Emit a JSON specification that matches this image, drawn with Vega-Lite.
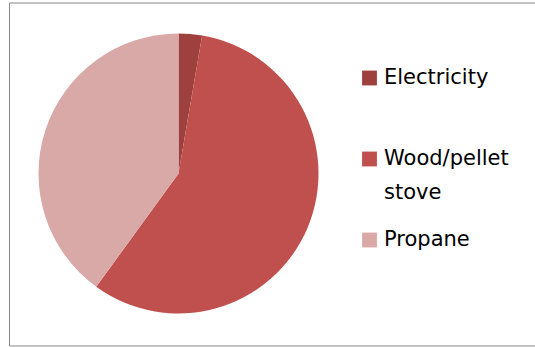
{
  "$schema": "https://vega.github.io/schema/vega-lite/v6.json",
  "width": 526,
  "height": 343,
  "autosize": {"type": "none"},
  "padding": {"left": 9, "top": 2.5, "right": 0, "bottom": 1.5},
  "background": "white",
  "data": {
    "values": [
      {"source": "Electricity", "share": 2.7, "rank": 1},
      {"source": "Wood/pellet stove", "share": 57.3, "rank": 2},
      {"source": "Propane", "share": 40, "rank": 3}
    ]
  },
  "mark": {"type": "arc", "radius": 140},
  "encoding": {
    "theta": {"field": "share", "type": "quantitative", "stack": true},
    "order": {"field": "rank", "type": "quantitative"},
    "x": {"value": 169.5},
    "y": {"value": 171},
    "color": {
      "field": "source",
      "type": "nominal",
      "scale": {
        "domain": ["Electricity", "Wood/pellet stove", "Propane"],
        "range": ["#9E413E", "#C0504D", "#D9A9A8"]
      },
      "legend": {
        "title": null,
        "orient": "none",
        "legendX": 350,
        "legendY": 65,
        "padding": 0,
        "symbolType": "square",
        "symbolSize": 220,
        "symbolStrokeWidth": 0,
        "labelFont": "DejaVu Sans",
        "labelFontSize": 21,
        "labelColor": "#000000",
        "labelOffset": 4,
        "labelLimit": 200,
        "rowPadding": 25,
        "labelExpr": "datum.label == 'Wood/pellet stove' ? ['Wood/pellet', 'stove'] : datum.label == 'Electricity' ? ['Electricity', ''] : datum.label"
      }
    }
  },
  "config": {
    "view": {"stroke": "#868686", "strokeWidth": 1},
    "style": {"guide-label": {"lineHeight": 34}}
  }
}
